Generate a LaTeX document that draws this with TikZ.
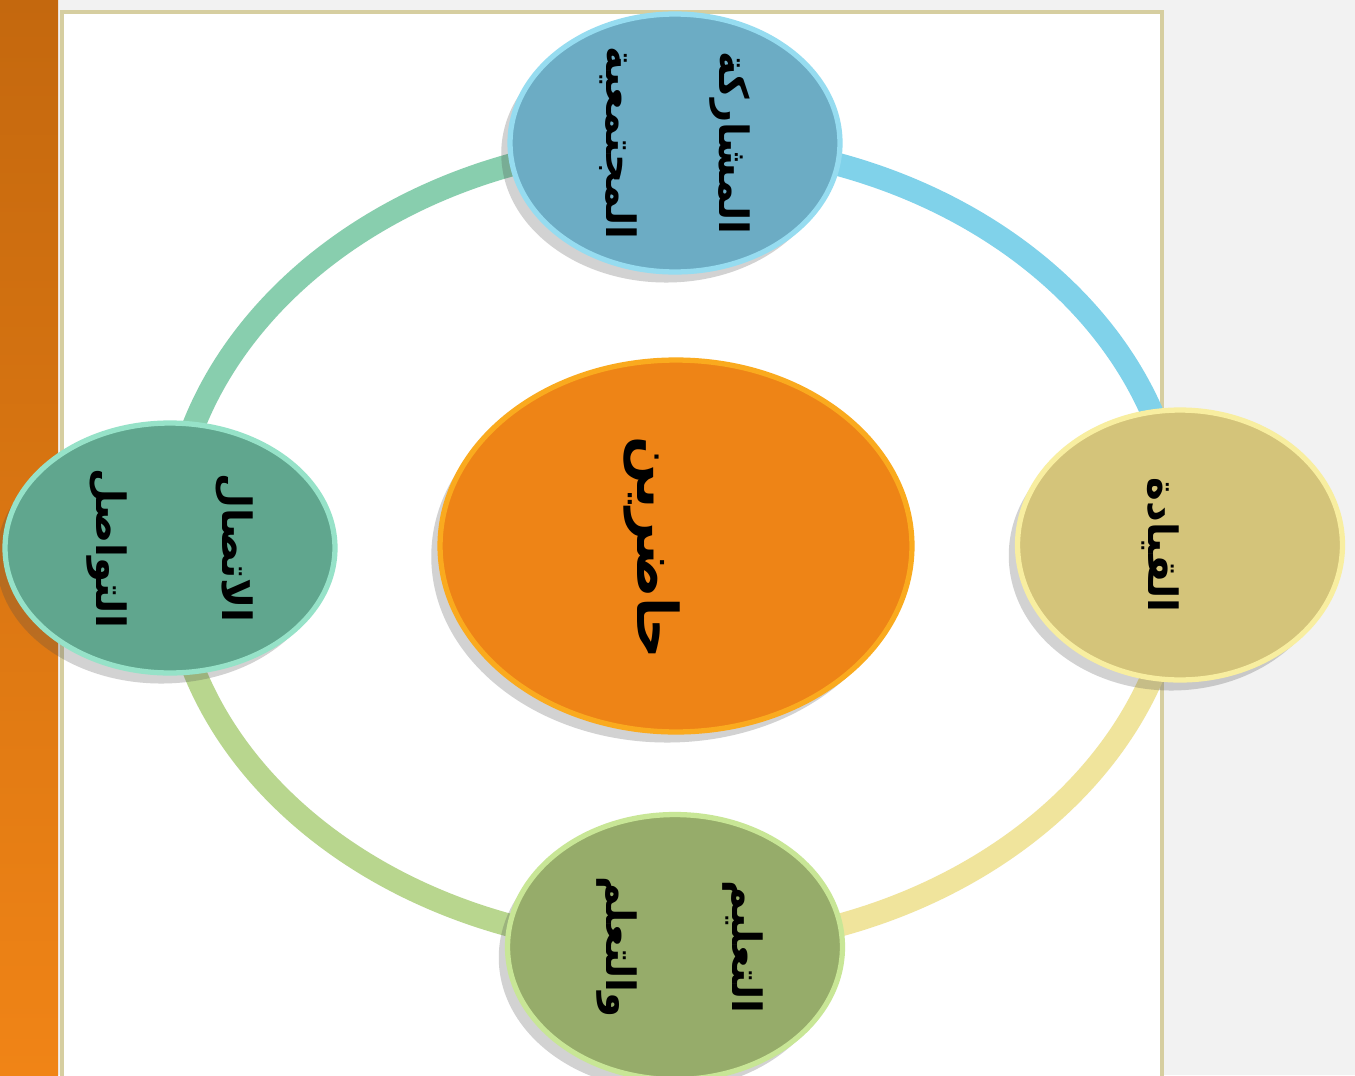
\documentclass[tikz,border=0pt]{standalone}
\usepackage{fontspec}
\newfontfamily\arabicfont[Script=Arabic]{DejaVu Sans}
\TeXXeTstate=1
\usetikzlibrary{shapes.geometric,shadows,backgrounds}
\definecolor{barorangetop}{RGB}{196,104,14}
\definecolor{barorange}{RGB}{240,132,22}
\definecolor{panelgray}{RGB}{242,242,242}
\definecolor{panelrim}{RGB}{214,206,160}
\definecolor{topblue}{RGB}{108,172,196}
\definecolor{topblueRim}{RGB}{150,220,240}
\definecolor{rightkhaki}{RGB}{212,196,122}
\definecolor{rightkhakiRim}{RGB}{248,238,160}
\definecolor{leftteal}{RGB}{96,166,142}
\definecolor{lefttealRim}{RGB}{150,226,200}
\definecolor{bottomolive}{RGB}{150,172,106}
\definecolor{bottomoliveRim}{RGB}{200,230,150}
\definecolor{centerorange}{RGB}{238,132,22}
\definecolor{centerorangeRim}{RGB}{250,170,30}
\definecolor{ringteal}{RGB}{136,206,174}
\definecolor{ringblue}{RGB}{128,210,234}
\definecolor{ringyellow}{RGB}{240,228,156}
\definecolor{ringgreen}{RGB}{184,214,142}

\begin{document}
\begin{tikzpicture}[x=0.02cm, y=-0.02cm,
  bubble/.style={ellipse, inner sep=0pt, line width=3pt,
    drop shadow={shadow xshift=-5pt, shadow yshift=-6pt, opacity=0.25, fill=black!70}},
  lbl/.style={rotate=-90, align=center, text=black,
    font={\arabicfont\bfseries\fontsize{23}{64}\selectfont}},
  ring/.style={draw=#1, line width=0.46cm, line cap=round}]
\useasboundingbox (0,0) rectangle (1355,1075);

% circles
\node[bubble, fill=topblue, draw=topblueRim, minimum width=6.6cm, minimum height=5.16cm] (top) at (675,143) {};
\node[bubble, fill=rightkhaki, draw=rightkhakiRim, minimum width=6.5cm, minimum height=5.4cm] (rgt) at (1180,545) {};
\node[bubble, fill=leftteal, draw=lefttealRim, minimum width=6.6cm, minimum height=5.0cm] (lft) at (170,548) {};
\node[bubble, fill=bottomolive, draw=bottomoliveRim, minimum width=6.7cm, minimum height=5.3cm] (bot) at (675,947) {};
\node[bubble, fill=centerorange, draw=centerorangeRim, minimum width=9.44cm, minimum height=7.44cm] (mid) at (676,546) {};

% labels
\node[lbl] (topTxt) at (top) {\beginR المشاركة\endR\\\beginR المجتمعية\endR};
\node[lbl] (rgtTxt) at (1160,545) {\beginR القيادة\endR};
\node[lbl, font={\arabicfont\bfseries\fontsize{23}{72}\selectfont}] (lftTxt) at (lft) {\beginR الاتصال\endR\\\beginR التواصل\endR};
\node[lbl, font={\arabicfont\bfseries\fontsize{23}{72}\selectfont}] (botTxt) at (680,947) {\beginR التعليم\endR\\\beginR والتعلم\endR};
\node[lbl, font={\arabicfont\bfseries\fontsize{32}{40}\selectfont}] (midTxt) at (652,548) {\beginR حاضرين\endR};

\begin{scope}[on background layer]
% page and panel
\fill[panelgray] (0,0) rectangle (1355,1075);
\fill[white, draw=panelrim, line width=2pt] (62,12) rectangle (1162,1080);
\shade[top color=barorangetop, bottom color=barorange] (0,0) rectangle (58,1075);
% ring
\draw[ring=ringteal] (lft.center) .. controls +(0,-222) and +(-279,0) .. (top.center);
\draw[ring=ringblue] (top.center) .. controls +(279,0) and +(0,-222) .. (rgt.center);
\draw[ring=ringyellow] (rgt.center) .. controls +(0,222) and +(279,0) .. (bot.center);
\draw[ring=ringgreen] (bot.center) .. controls +(-279,0) and +(0,222) .. (lft.center);
\end{scope}
\end{tikzpicture}
\end{document}
